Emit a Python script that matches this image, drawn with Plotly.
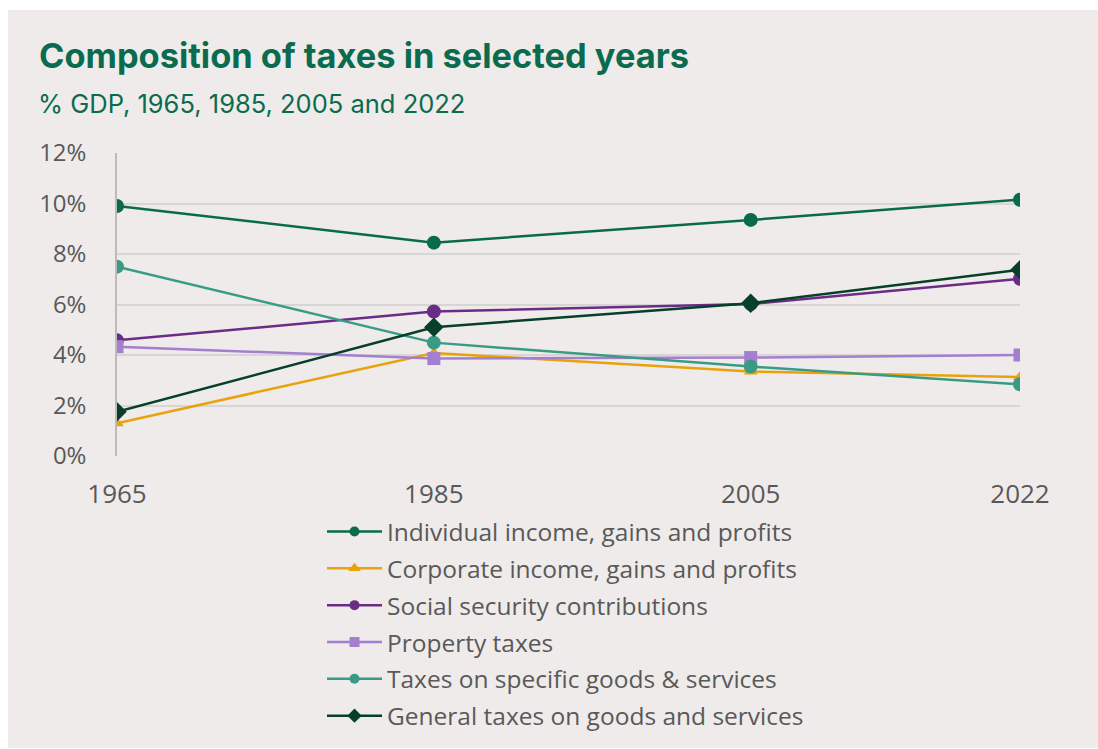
import plotly.graph_objects as go

# Years shown on the horizontal axis
years = [1965, 1985, 2005, 2022]

# Tax revenue by category, % of GDP
individual_income = [9.9, 8.45, 9.35, 10.15]
corporate_income = [1.3, 4.08, 3.35, 3.13]
social_security = [4.58, 5.72, 6.02, 7.02]
property_taxes = [4.33, 3.86, 3.9, 4.0]
specific_goods = [7.5, 4.49, 3.54, 2.84]
general_goods = [1.75, 5.1, 6.05, 7.38]

series_names = [
    "Individual income, gains and profits",
    "Corporate income, gains and profits",
    "Social security contributions",
    "Property taxes",
    "Taxes on specific goods & services",
    "General taxes on goods and services",
]
series_values = [individual_income, corporate_income, social_security,
                 property_taxes, specific_goods, general_goods]
series_colors = ["#0A6B4B", "#E8A20C", "#6B2C85", "#A47FCF", "#3A9B85", "#073F2B"]
series_symbols = ["circle", "triangle-up", "circle", "square", "circle", "diamond"]
series_sizes = [14, 12, 14, 13, 14, 15]
legend_sizes = [10, 11, 10, 10, 10, 11]

y_ticks = [0, 2, 4, 6, 8, 10, 12]
y_labels = [f"{v}%" for v in y_ticks]

PANEL = "#EEEBEA"
TITLE_GREEN = "#0B6B4E"
LABEL_GREY = "#595959"

fig = go.Figure()
for name, vals, col, sym, sz, lsz in zip(series_names, series_values, series_colors,
                                         series_symbols, series_sizes, legend_sizes):
    fig.add_trace(go.Scatter(
        x=years, y=vals, name=name, mode="lines+markers",
        legendgroup=name, showlegend=False,
        line=dict(color=col, width=2.5),
        marker=dict(symbol=sym, size=sz, color=col),
    ))
    # legend key with a smaller marker
    fig.add_trace(go.Scatter(
        x=[None], y=[None], name=name, mode="lines+markers",
        legendgroup=name, showlegend=True,
        line=dict(color=col, width=2.5),
        marker=dict(symbol=sym, size=lsz, color=col),
    ))

# plot area geometry (px) used to place the panel and headings
W, H = 1098, 749
L, R, T, B = 117, 78, 153, 293
pw, ph = W - L - R, H - T - B

def px_x(x):
    return (x - L) / pw

def px_y(y):
    return (H - B - y) / ph

fig.add_shape(type="rect", xref="paper", yref="paper", layer="below",
              x0=px_x(8), x1=px_x(W + 5), y0=px_y(748), y1=px_y(10),
              fillcolor=PANEL, line=dict(width=0))

fig.add_annotation(text="<b>Composition of taxes in selected years</b>",
                   xref="paper", yref="paper", x=px_x(37), y=px_y(55),
                   xanchor="left", yanchor="middle", showarrow=False,
                   font=dict(family="Inter", size=34.4, color=TITLE_GREEN))
fig.add_annotation(text="% GDP, 1965, 1985, 2005 and 2022",
                   xref="paper", yref="paper", x=px_x(36), y=px_y(103),
                   xanchor="left", yanchor="middle", showarrow=False,
                   font=dict(family="Inter", size=25.5, color=TITLE_GREEN))

fig.update_layout(
    width=W, height=H,
    margin=dict(l=L, r=R, t=T, b=B, autoexpand=False),
    paper_bgcolor="white",
    plot_bgcolor=PANEL,
    font=dict(family="Open Sans", color=LABEL_GREY),
    xaxis=dict(range=[1965, 2022], tickmode="array", tickvals=years,
               ticktext=[str(y) for y in years], showgrid=False,
               zeroline=False, showline=False, ticks="",
               ticklabelstandoff=20,
               tickfont=dict(size=26, color=LABEL_GREY)),
    yaxis=dict(range=[0, 12], tickmode="array", tickvals=y_ticks,
               ticktext=y_labels, showgrid=True, gridcolor="#D8D6D5",
               gridwidth=1.5, zeroline=False, showline=True,
               linecolor="#BDBBBA", linewidth=1.5, ticks="",
               ticklabelstandoff=24,
               tickfont=dict(size=24, color=LABEL_GREY)),
    legend=dict(x=px_x(322), y=px_y(509), xanchor="left", yanchor="top",
                bgcolor="rgba(0,0,0,0)", itemwidth=55, tracegroupgap=2,
                font=dict(family="Open Sans", size=24.5, color=LABEL_GREY)),
    showlegend=True,
)

fig.write_html("out.html")
